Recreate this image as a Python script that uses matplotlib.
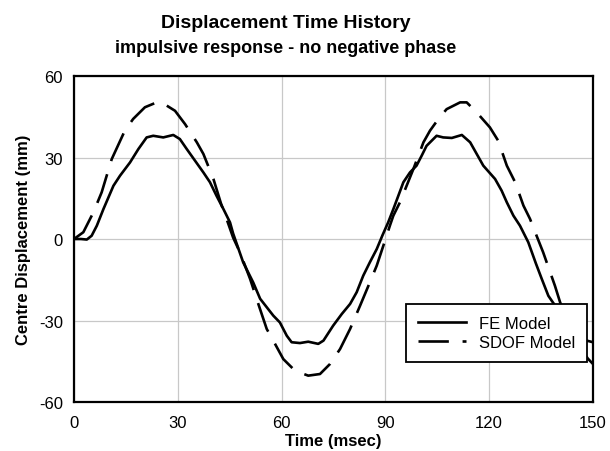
import matplotlib
matplotlib.use("Agg")
import matplotlib.pyplot as plt

plt.rcParams['font.family'] = ['Liberation Sans', 'DejaVu Sans']
plt.rcParams['axes.unicode_minus'] = False

# FE model (solid)
fe_t = [0, 2, 3.7, 5.1, 6.6, 8.5, 11.4, 13.3, 16.2, 18.6, 21, 22.9, 25.8, 28.7, 30.6,
        32.6, 35, 37.4, 39.3, 41.2, 43.2, 45.1, 46, 48.9, 51.8, 53.8, 55.7, 57.6, 59.5,
        61.5, 62.9, 65.3, 67.7, 70.6, 72.1, 74.9, 77.4, 79.8, 81.7, 83.6, 85.5, 87.5,
        89.2, 90.8, 92.3, 95.2, 97.1, 99, 100.5, 101.9, 104.8, 106.7, 109.2, 112.1,
        114.5, 116.4, 118.3, 121.7, 123.6, 125.1, 127, 128.9, 131.3, 133.5, 135.2,
        137.1, 138.5, 141, 144, 147, 150]
fe_d = [0, 0, -0.2, 1.2, 4.9, 11, 19.6, 23.3, 28.2, 33.1, 37.4, 38, 37.4, 38.3, 36.8,
        33.1, 28.8, 24.5, 20.9, 15.9, 11, 6.1, 2, -8.6, -16, -22, -25.1, -28.2, -30.7,
        -35.6, -38, -38.3, -37.8, -38.6, -37.4, -31.9, -27.6, -23.9, -19.6, -13.5, -8.6, -3.7,
        1.5, 6.1, 11, 20.9, 24.5, 27, 30.7, 34.3, 38, 37.4, 37.2, 38.3,
        35.6, 31.3, 27, 22.1, 17.8, 13.5, 8.6, 4.9, -1.2, -9, -14.7,
        -20.9, -23.5, -28, -33, -37, -38]

# SDOF model (dashed)
sdof_t = [0, 2.7, 5.6, 8, 10.9, 14.7, 17.1, 20.5, 23.9, 25.3, 29.2, 32.1, 35.5, 37.4,
          40.3, 42.5, 44.1, 46, 48, 50.9, 53.3, 55.7, 58.1, 60.5, 63.9, 67.7, 71.1, 74,
          76.9, 79.8, 82.7, 85.1, 87.5, 89.4, 91.3, 92.3, 94.2, 98.1, 101, 102.9, 105.5,
          107.7, 111.6, 113.5, 116.4, 120.2, 122.6, 125.1, 127.5, 129.9, 131.8, 133.7,
          135.6, 139, 140.5, 143, 146, 148.5, 150]
sdof_d = [0, 2.5, 9.8, 17.2, 29.4, 39.9, 44.2, 48.5, 50.3, 50.3, 47.2, 42.3, 35.6, 31.3,
          22.1, 13, 7.4, 0.5, -5, -14.7, -24, -33.1, -38.6, -44.2, -48.5, -50.3, -49.7, -46,
          -40.5, -33.1, -24.5, -17.2, -9.8, -2.5, 4.9, 8.6, 13.5, 25.8, 35.6, 39.9, 44.5,
          47.8, 50.3, 50.3, 46.6, 41.1, 36.2, 27, 20.9, 12.3, 7.4, 1.2,
          -4.9, -17.2, -23.3, -31, -39, -44, -46]

fig = plt.figure(figsize=(6.1, 4.52), dpi=100)
ax = fig.add_axes([0.1213, 0.1084, 0.8508, 0.7212])

ax.plot(fe_t, fe_d, color='black', lw=1.9, solid_joinstyle='round', label='FE Model')
ax.plot(sdof_t, sdof_d, color='black', lw=1.9, dashes=(11.5, 5.2),
        dash_joinstyle='round', label='SDOF Model')

ax.set_xlim(0, 150)
ax.set_ylim(-60, 60)
ax.set_xticks([0, 30, 60, 90, 120, 150])
ax.set_yticks([-60, -30, 0, 30, 60])
ax.tick_params(length=0, labelsize=12)
ax.tick_params(axis='x', pad=9)
ax.tick_params(axis='y', pad=8)
ax.grid(True, color='#c8c8c8', lw=0.9)
ax.set_axisbelow(True)
for s in ax.spines.values():
    s.set_linewidth(1.6)

ax.set_xlabel('Time (msec)', fontsize=12, fontweight='bold', labelpad=2.5)
ax.set_ylabel('Centre Displacement (mm)', fontsize=12, fontweight='bold', labelpad=6)

fig.text(0.469, 0.947, 'Displacement Time History', ha='center', va='center',
         fontsize=14, fontweight='bold')
fig.text(0.469, 0.893, 'impulsive response - no negative phase', ha='center', va='center',
         fontsize=13, fontweight='bold')

leg = ax.legend(loc='upper right', bbox_to_anchor=(0.9884, 0.3006), fontsize=12,
                handlelength=2.9, handletextpad=0.75, frameon=True, fancybox=False,
                framealpha=1, edgecolor='black', borderpad=0.72, labelspacing=0.22,
                borderaxespad=0)
leg.get_frame().set_linewidth(1.3)

fig.savefig('out.png', dpi=100)
